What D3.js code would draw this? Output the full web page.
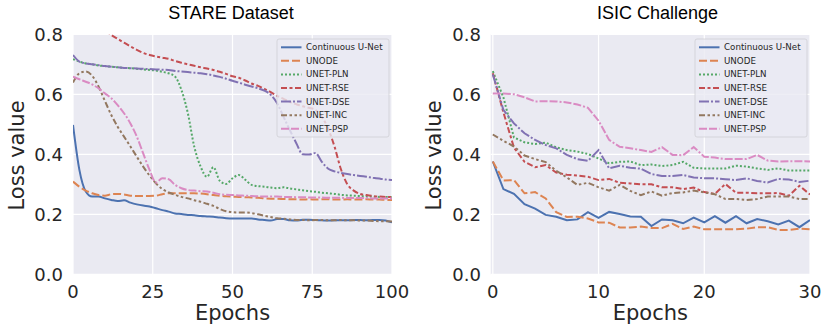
<!DOCTYPE html>
<html lang="en">
<head>
    <meta charset="utf-8">
    <title>Loss curves</title>
    <script type="text/javascript" src="https://d3js.org/d3.v7.min.js"></script>
    <style>
        body { margin: 0; background: #ffffff; }
        text { fill: #262626; font-family: "DejaVu Sans", sans-serif; }
        .title { font-family: "Liberation Sans", Arial, sans-serif; font-size: 18px; fill: #000; }
    </style>
</head>
<body>
    <div id="viz"></div>

    <script type="text/javascript">
        // names shown in the legends, in drawing order
        const seriesNames = ["Continuous U-Net", "UNODE", "UNET-PLN", "UNET-RSE", "UNET-DSE", "UNET-INC", "UNET-PSP"];

        // STARE dataset, read every 2 epochs
        const stareEpochs = [0,2,4,6,8,10,12,14,16,18,20,22,24,26,28,30,32,34,36,38,40,42,44,46,48,50,
                             52,54,56,58,60,62,64,66,68,70,72,74,76,78,80,82,84,86,88,90,92,94,96,98,100];
        const stareContinuous = [0.498,0.348,0.276,0.259,0.259,0.253,0.248,0.244,0.247,0.239,0.233,0.229,0.226,0.220,0.214,0.209,0.203,0.201,0.198,0.197,0.194,0.193,0.192,0.189,0.187,0.186,
                                 0.186,0.186,0.186,0.183,0.181,0.179,0.184,0.184,0.180,0.179,0.182,0.182,0.181,0.180,0.179,0.180,0.180,0.180,0.181,0.181,0.180,0.181,0.181,0.179,0.173];
        const stareUnode = [0.309,0.292,0.279,0.270,0.264,0.262,0.267,0.268,0.266,0.262,0.261,0.261,0.261,0.262,0.267,0.270,0.270,0.270,0.270,0.270,0.269,0.267,0.264,0.262,0.260,0.259,
                            0.258,0.257,0.256,0.255,0.253,0.252,0.252,0.251,0.250,0.250,0.249,0.250,0.249,0.250,0.250,0.249,0.249,0.250,0.249,0.249,0.250,0.249,0.249,0.248,0.248];
        const starePln = [0.717,0.709,0.703,0.700,0.696,0.694,0.692,0.690,0.688,0.687,0.685,0.683,0.681,0.679,0.675,0.670,0.659,0.614,0.537,0.426,0.359,0.325,0.357,0.312,0.301,0.320,
                          0.331,0.315,0.298,0.294,0.292,0.289,0.287,0.290,0.286,0.283,0.280,0.277,0.275,0.272,0.270,0.268,0.265,0.263,0.262,0.261,0.260,0.259,0.258,0.258,0.257];
        const stareRse = [0.930,0.900,0.875,0.855,0.835,0.815,0.798,0.785,0.772,0.760,0.748,0.738,0.731,0.726,0.722,0.718,0.711,0.705,0.700,0.695,0.690,0.686,0.681,0.675,0.668,0.660,
                          0.655,0.646,0.636,0.628,0.618,0.607,0.595,0.585,0.575,0.567,0.560,0.555,0.548,0.525,0.485,0.425,0.350,0.300,0.279,0.268,0.264,0.261,0.259,0.258,0.258];
        const stareDse = [0.731,0.709,0.703,0.700,0.697,0.694,0.692,0.690,0.688,0.687,0.686,0.685,0.684,0.683,0.682,0.681,0.678,0.676,0.674,0.672,0.670,0.667,0.663,0.658,0.652,0.645,
                          0.639,0.632,0.626,0.620,0.612,0.598,0.570,0.525,0.480,0.437,0.400,0.399,0.404,0.375,0.352,0.343,0.338,0.334,0.331,0.328,0.325,0.322,0.319,0.316,0.314];
        const stareInc = [0.639,0.670,0.676,0.662,0.626,0.578,0.531,0.492,0.459,0.426,0.392,0.359,0.329,0.303,0.284,0.273,0.265,0.258,0.253,0.247,0.242,0.235,0.228,0.218,0.210,0.207,
                          0.206,0.206,0.204,0.200,0.195,0.191,0.187,0.185,0.183,0.181,0.181,0.180,0.181,0.181,0.180,0.180,0.181,0.180,0.180,0.179,0.179,0.178,0.177,0.177,0.176];
        const starePsp = [0.659,0.650,0.642,0.633,0.620,0.603,0.587,0.564,0.537,0.503,0.459,0.403,0.348,0.306,0.320,0.317,0.298,0.287,0.281,0.279,0.277,0.276,0.272,0.267,0.265,0.264,
                          0.263,0.262,0.261,0.260,0.259,0.259,0.259,0.258,0.258,0.257,0.257,0.256,0.256,0.256,0.255,0.255,0.255,0.254,0.254,0.254,0.254,0.253,0.253,0.253,0.253];

        // ISIC challenge, one value per epoch
        const isicEpochs = [0,1,2,3,4,5,6,7,8,9,10,11,12,13,14,15,16,17,18,19,20,21,22,23,24,25,26,27,28,29,30];
        const isicContinuous = [0.376,0.284,0.268,0.234,0.219,0.198,0.192,0.180,0.183,0.207,0.188,0.208,0.201,0.193,0.192,0.161,0.183,0.180,0.170,0.189,0.173,0.194,0.172,0.194,0.170,0.184,0.177,0.166,0.179,0.157,0.181];
        const isicUnode = [0.376,0.313,0.314,0.270,0.274,0.253,0.207,0.191,0.192,0.186,0.173,0.172,0.156,0.156,0.159,0.154,0.154,0.168,0.151,0.159,0.150,0.150,0.150,0.150,0.152,0.157,0.157,0.148,0.148,0.152,0.150];
        const isicPln = [0.677,0.590,0.456,0.440,0.434,0.439,0.423,0.414,0.409,0.401,0.386,0.370,0.375,0.376,0.364,0.366,0.361,0.364,0.375,0.355,0.353,0.353,0.353,0.362,0.359,0.353,0.348,0.353,0.346,0.346,0.346];
        const isicRse = [0.670,0.540,0.422,0.375,0.357,0.364,0.339,0.332,0.329,0.325,0.314,0.318,0.305,0.303,0.300,0.300,0.290,0.290,0.284,0.289,0.274,0.268,0.301,0.272,0.272,0.270,0.270,0.271,0.262,0.295,0.266];
        const isicDse = [0.666,0.548,0.503,0.470,0.448,0.431,0.420,0.398,0.384,0.378,0.414,0.353,0.362,0.355,0.352,0.334,0.328,0.328,0.331,0.323,0.320,0.320,0.317,0.314,0.320,0.311,0.306,0.318,0.316,0.308,0.312];
        const isicInc = [0.466,0.445,0.426,0.396,0.384,0.374,0.345,0.323,0.298,0.305,0.290,0.279,0.298,0.278,0.264,0.276,0.262,0.271,0.273,0.279,0.273,0.267,0.251,0.251,0.248,0.251,0.259,0.259,0.259,0.251,0.251];
        const isicPsp = [0.603,0.603,0.600,0.590,0.576,0.577,0.576,0.573,0.566,0.555,0.512,0.448,0.425,0.420,0.414,0.408,0.424,0.398,0.397,0.424,0.392,0.389,0.384,0.384,0.384,0.398,0.379,0.376,0.377,0.377,0.376];

        const yTicks = [0.0, 0.2, 0.4, 0.6, 0.8];
        const stareXTicks = [0, 25, 50, 75, 100];
        const isicXTicks = [0, 10, 20, 30];

        // seaborn "deep" colours and its default dash sequence (scaled by line width 2)
        const colors = ["#4C72B0", "#DD8452", "#55A868", "#C44E52", "#8172B3", "#937860", "#DA8BC3"];
        const dashes = ["", "8,3", "2,2", "6,2.5,3,2.5", "10,2,2,2", "6,2.5,2.5,2.5,2.5,2.5", "8,2,8,2,2,2"];

        const width = 831;
        const height = 335;
        const yTop = 34.3, yBottom = 274.3;

        const svg = d3.select("#viz")
            .append("svg")
            .attr("width", width)
            .attr("height", height);

        const panels = [
            {id: "stare", title: "STARE Dataset", titleX: 231, left: 73, right: 392, domain: [0, 100],
             xTicks: stareXTicks, epochs: stareEpochs, curve: d3.curveMonotoneX,
             series: [stareContinuous, stareUnode, starePln, stareRse, stareDse, stareInc, starePsp],
             legendX: 277, labelX: 23.5, yLabelEnd: 63},
            {id: "isic", title: "ISIC Challenge", titleX: 657.5, left: 490.7, right: 810, domain: [-0.2, 30],
             xTicks: isicXTicks, epochs: isicEpochs, curve: d3.curveLinear,
             series: [isicContinuous, isicUnode, isicPln, isicRse, isicDse, isicInc, isicPsp],
             legendX: 695, labelX: 440.5, yLabelEnd: 481}
        ];

        panels.forEach(function(p) {
            const xScale = d3.scaleLinear().domain(p.domain).range([p.left, p.right]);
            const yScale = d3.scaleLinear().domain([0, 0.8]).range([yBottom, yTop]);

            const g = svg.append("g").attr("class", p.id);

            // background
            g.append("rect")
                .attr("x", p.left).attr("y", yTop)
                .attr("width", p.right - p.left).attr("height", yBottom - yTop)
                .attr("fill", "#EAEAF2");

            // grid
            g.selectAll(".hgrid").data(yTicks).enter().append("line")
                .attr("x1", p.left).attr("x2", p.right)
                .attr("y1", d => yScale(d)).attr("y2", d => yScale(d))
                .attr("stroke", "#ffffff").attr("stroke-width", 1.2);
            g.selectAll(".vgrid").data(p.xTicks).enter().append("line")
                .attr("x1", d => xScale(d)).attr("x2", d => xScale(d))
                .attr("y1", yTop).attr("y2", yBottom)
                .attr("stroke", "#ffffff").attr("stroke-width", 1.2);

            // tick labels
            g.selectAll(".ytick").data(yTicks).enter().append("text")
                .attr("x", p.yLabelEnd).attr("y", d => yScale(d))
                .attr("dy", "0.36em")
                .attr("text-anchor", "end")
                .style("font-size", "18px")
                .text(d => d3.format(".1f")(d));
            g.selectAll(".xtick").data(p.xTicks).enter().append("text")
                .attr("x", d => xScale(d)).attr("y", 297.5)
                .attr("text-anchor", "middle")
                .style("font-size", "18px")
                .text(d => d);

            // axis labels and title
            g.append("text")
                .attr("x", (p.left + p.right) / 2).attr("y", 319.5)
                .attr("text-anchor", "middle")
                .style("font-size", "21px")
                .text("Epochs");
            g.append("text")
                .attr("transform", "translate(" + p.labelX + "," + 155.5 + ") rotate(-90)")
                .attr("text-anchor", "middle")
                .style("font-size", "21px")
                .text("Loss value");
            g.append("text")
                .attr("class", "title")
                .attr("x", p.titleX).attr("y", 19.3)
                .attr("text-anchor", "middle")
                .text(p.title);

            // curves
            const clipId = "clip-" + p.id;
            g.append("clipPath").attr("id", clipId)
                .append("rect")
                .attr("x", p.left).attr("y", yTop)
                .attr("width", p.right - p.left).attr("height", yBottom - yTop);

            const line = d3.line()
                .x((d, i) => xScale(p.epochs[i]))
                .y(d => yScale(d))
                .curve(p.curve);

            g.append("g")
                .attr("clip-path", "url(#" + clipId + ")")
                .selectAll("path")
                .data(p.series)
                .enter()
                .append("path")
                    .attr("d", d => line(d))
                    .attr("fill", "none")
                    .attr("stroke", (d, i) => colors[i])
                    .attr("stroke-width", 2)
                    .attr("stroke-dasharray", (d, i) => dashes[i] || null);

            // legend
            const legend = g.append("g").attr("transform", "translate(" + p.legendX + ",39)");
            legend.append("rect")
                .attr("width", 112).attr("height", 98)
                .attr("rx", 2)
                .attr("fill", "#EAEAF2").attr("fill-opacity", 0.8)
                .attr("stroke", "#cfcfd4").attr("stroke-width", 0.8);
            const rows = legend.selectAll(".row").data(seriesNames).enter().append("g")
                .attr("transform", (d, i) => "translate(0," + (8.3 + i * 13.57) + ")");
            rows.append("line")
                .attr("x1", 4).attr("x2", 24.5)
                .attr("stroke", (d, i) => colors[i])
                .attr("stroke-width", 2)
                .attr("stroke-dasharray", (d, i) => dashes[i] || null);
            rows.append("text")
                .attr("x", 29).attr("dy", "0.35em")
                .style("font-size", "8.7px")
                .text(d => d);
        });
    </script>
</body>
</html>
